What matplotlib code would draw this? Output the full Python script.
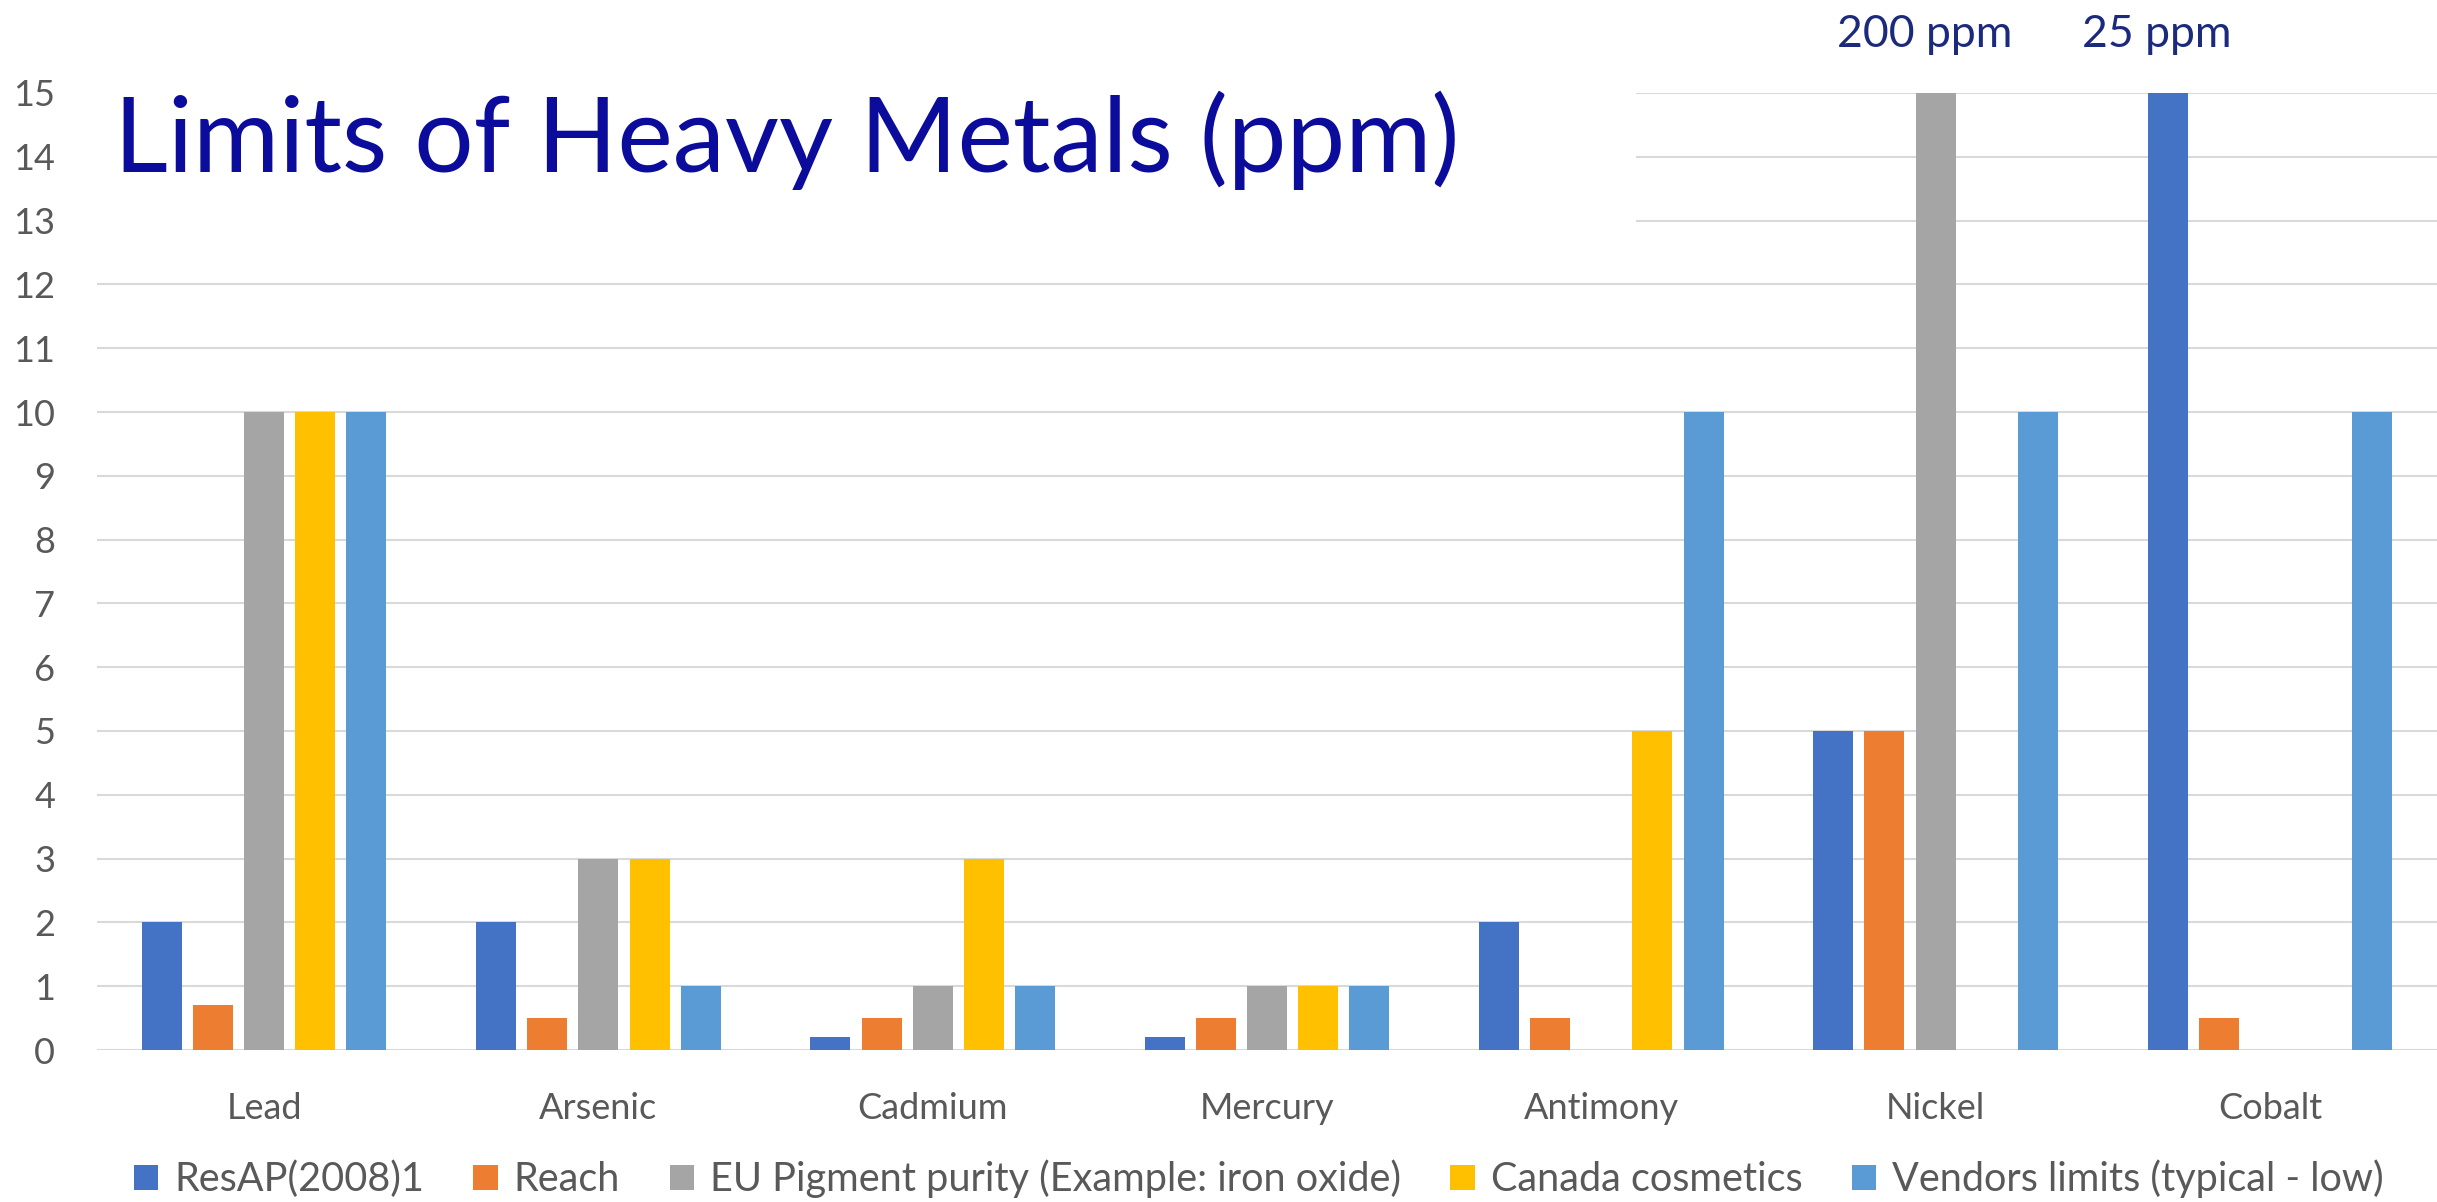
import matplotlib.pyplot as plt
import numpy as np
from matplotlib.patches import Rectangle, Patch

plt.rcParams['font.family'] = ['Lato', 'DejaVu Sans']

# data
metals = ['Lead', 'Arsenic', 'Cadmium', 'Mercury', 'Antimony', 'Nickel', 'Cobalt']
resap = [2, 2, 0.2, 0.2, 2, 5, 25]
reach = [0.7, 0.5, 0.5, 0.5, 0.5, 5, 0.5]
eu_pigment = [10, 3, 1, 1, np.nan, 200, np.nan]
canada = [10, 3, 3, 1, 5, np.nan, np.nan]
vendors = [10, 1, 1, 1, 10, 10, 10]

series = [resap, reach, eu_pigment, canada, vendors]
names = ['ResAP(2008)1', 'Reach', 'EU Pigment purity (Example: iron oxide)',
         'Canada cosmetics', 'Vendors limits (typical - low)']
colors = ['#4472C4', '#ED7D31', '#A5A5A5', '#FFC000', '#5B9BD5']
ymax = 15

W, H = 2437, 1202
fig = plt.figure(figsize=(W / 100, H / 100), dpi=100)
ax = fig.add_axes([97 / W, 1 - 1050 / H, 1 - 97 / W, (1050 - 93) / H])

x = np.arange(len(metals))
step = 0.153
width = 0.12
for i, (vals, c) in enumerate(zip(series, colors)):
    ax.bar(x + (i - 2) * step, vals, width, color=c, zorder=2)
    # values above the axis limit get a text label
    for xi, v in zip(x, vals):
        if v > ymax:
            ax.annotate(f'{v:g} ppm', xy=(xi + (i - 2) * step, 1.0),
                        xycoords=('data', 'axes fraction'),
                        xytext=(-8, 42), textcoords='offset points',
                        ha='center', va='center', fontsize=32, color='#1c2a7e')

ax.set_xlim(-0.5, len(metals) - 0.5)
ax.set_ylim(0, ymax)
ax.set_yticks(range(0, ymax + 1))
ax.set_xticks(x)
ax.set_xticklabels(metals)
ax.grid(axis='y', color='#d9d9d9', linewidth=1.5, zorder=0)
ax.set_axisbelow(True)
for s in ax.spines.values():
    s.set_visible(False)
ax.tick_params(axis='both', length=0, labelsize=26, labelcolor='#595959')
ax.tick_params(axis='y', pad=30)
ax.tick_params(axis='x', pad=30)

# white box behind the title hides the top gridlines
fig.add_artist(Rectangle((97 / W, 1 - 255 / H), (1636 - 97) / W, (255 - 75) / H,
                         transform=fig.transFigure, facecolor='white',
                         edgecolor='none', zorder=1))
fig.text(114 / W, 1 - 172 / H, 'Limits of Heavy Metals (ppm)', ha='left',
         va='baseline', fontsize=75.5, color='#0c0c9c', zorder=3)

handles = [Patch(facecolor=c, edgecolor='none') for c in colors]
fig.legend(handles, names, loc='center', bbox_to_anchor=(0.5165, 1 - 1179 / H),
           ncol=5, frameon=False, fontsize=28.5, handlelength=0.62, handleheight=0.62,
           handletextpad=0.4, columnspacing=1.25, labelcolor='#595959')

fig.savefig('out.png', dpi=100)
